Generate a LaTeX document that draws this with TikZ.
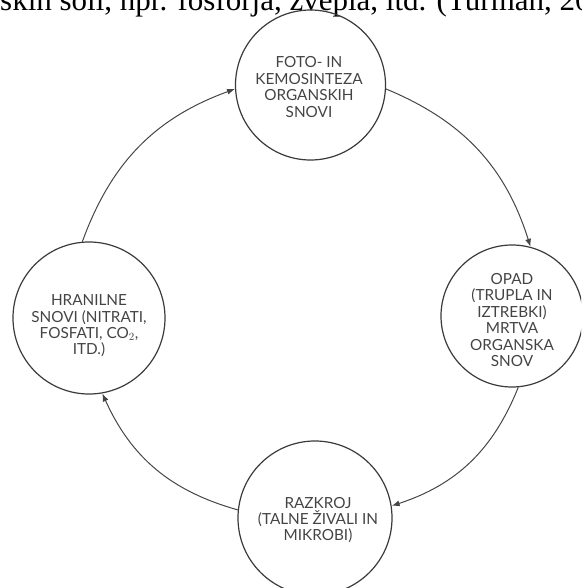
\documentclass[tikz,border=0pt]{standalone}
\usepackage{fontspec}
\setmainfont{Lato}
\newfontfamily\hdrfont{Liberation Serif}
\usetikzlibrary{arrows.meta}
\definecolor{ringcol}{HTML}{3A3A3A}
\definecolor{arrcol}{HTML}{454545}
\definecolor{txtcol}{HTML}{444444}
\begin{document}
\begin{tikzpicture}[x=1pt,y=-1pt,
  ring/.style={circle, draw=ringcol, line width=1.2pt, inner sep=0pt},
  lbl/.style={align=center, text=txtcol, inner sep=0pt,
    font=\fontsize{15.3}{16.4}\selectfont},
  flow/.style={draw=arrcol, line width=1pt, -{Latex[length=8pt,width=6pt]}, bend left=25}]
\useasboundingbox (0,0) rectangle (581,588);
\clip (0,0) rectangle (581,588);
\node[anchor=base west, inner sep=0pt, font=\hdrfont\fontsize{31}{31}\selectfont] (hdr) at (0,11) {skih soli, npr. fosforja, žvepla, itd. (Turman, 20};
\node[ring, minimum size=150pt] (top) at (310.5,85) {};
\node[ring, minimum size=142pt] (right) at (512,316) {};
\node[ring, minimum size=154pt] (bot) at (315,518) {};
\node[ring, minimum size=152pt] (left) at (89,318) {};
\node[lbl] (toptext) at (309,87) {FOTO- IN\\KEMOSINTEZA\\ORGANSKIH\\SNOVI};
\node[lbl] (righttext) at (512,320) {OPAD\\(TRUPLA IN\\IZTREBKI)\\MRTVA\\ORGANSKA\\SNOV};
\node[lbl] (bottext) at (318,520) {RAZKROJ\\(TALNE ŽIVALI IN\\MIKROBI)};
\node[lbl] (lefttext) at (89,326) {HRANILNE\\SNOVI (NITRATI,\\FOSFATI, CO$_2$,\\ITD.)};
\draw[flow] (top.-3) to (right.75);
\draw[flow] (right.-85) to (bot.9);
\draw[flow] (bot.174) to (left.-80);
\draw[flow] (left.95) to (top.183);
\end{tikzpicture}
\end{document}
